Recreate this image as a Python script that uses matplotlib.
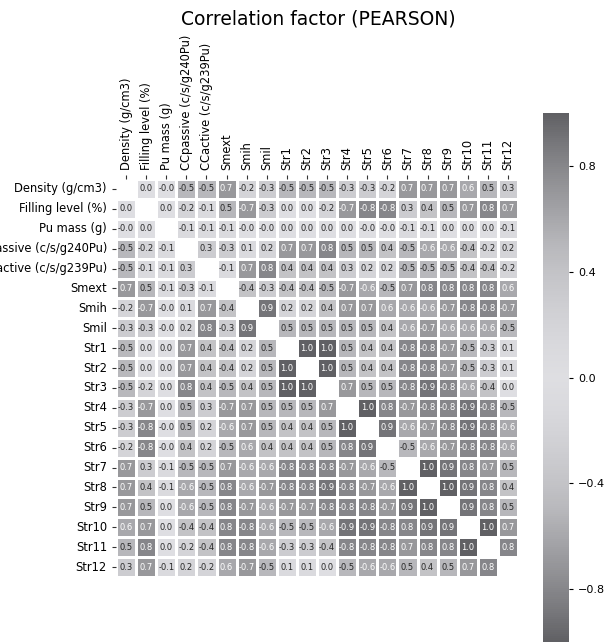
import numpy as np
import pandas as pd
import seaborn as sns
import matplotlib.pyplot as plt
from matplotlib.colors import LinearSegmentedColormap

# nomes das variaveis
labels = ['Density (g/cm3)', 'Filling level (%)', 'Pu mass (g)',
          'CCpassive (c/s/g240Pu)', 'CCactive (c/s/g239Pu)',
          'Smext', 'Smih', 'Smil',
          'Str1', 'Str2', 'Str3', 'Str4', 'Str5', 'Str6',
          'Str7', 'Str8', 'Str9', 'Str10', 'Str11', 'Str12']

# linhas da matriz de correlacao (diagonal = 1, fica mascarada)
r_density  = [1.0, 0.0, -0.0, -0.5, -0.5, 0.7, -0.2, -0.3, -0.5, -0.5, -0.5, -0.3, -0.3, -0.2, 0.7, 0.7, 0.7, 0.6, 0.5, 0.3]
r_filling  = [0.0, 1.0, 0.0, -0.2, -0.1, 0.5, -0.7, -0.3, 0.0, 0.0, -0.2, -0.7, -0.8, -0.8, 0.3, 0.4, 0.5, 0.7, 0.8, 0.7]
r_pumass   = [-0.0, 0.0, 1.0, -0.1, -0.1, -0.1, -0.0, -0.0, 0.0, 0.0, 0.0, 0.0, -0.0, -0.0, -0.1, -0.1, 0.0, 0.0, 0.0, -0.1]
r_ccpass   = [-0.5, -0.2, -0.1, 1.0, 0.3, -0.3, 0.1, 0.2, 0.7, 0.7, 0.8, 0.5, 0.5, 0.4, -0.5, -0.6, -0.6, -0.4, -0.2, 0.2]
r_ccact    = [-0.5, -0.1, -0.1, 0.3, 1.0, -0.1, 0.7, 0.8, 0.4, 0.4, 0.4, 0.3, 0.2, 0.2, -0.5, -0.5, -0.5, -0.4, -0.4, -0.2]
r_smext    = [0.7, 0.5, -0.1, -0.3, -0.1, 1.0, -0.4, -0.3, -0.4, -0.4, -0.5, -0.7, -0.6, -0.5, 0.7, 0.8, 0.8, 0.8, 0.8, 0.6]
r_smih     = [-0.2, -0.7, -0.0, 0.1, 0.7, -0.4, 1.0, 0.9, 0.2, 0.2, 0.4, 0.7, 0.7, 0.6, -0.6, -0.6, -0.7, -0.8, -0.8, -0.7]
r_smil     = [-0.3, -0.3, -0.0, 0.2, 0.8, -0.3, 0.9, 1.0, 0.5, 0.5, 0.5, 0.5, 0.5, 0.4, -0.6, -0.7, -0.6, -0.6, -0.6, -0.5]
r_str1     = [-0.5, 0.0, 0.0, 0.7, 0.4, -0.4, 0.2, 0.5, 1.0, 1.0, 1.0, 0.5, 0.4, 0.4, -0.8, -0.8, -0.7, -0.5, -0.3, 0.1]
r_str2     = [-0.5, 0.0, 0.0, 0.7, 0.4, -0.4, 0.2, 0.5, 1.0, 1.0, 1.0, 0.5, 0.4, 0.4, -0.8, -0.8, -0.7, -0.5, -0.3, 0.1]
r_str3     = [-0.5, -0.2, 0.0, 0.8, 0.4, -0.5, 0.4, 0.5, 1.0, 1.0, 1.0, 0.7, 0.5, 0.5, -0.8, -0.9, -0.8, -0.6, -0.4, 0.0]
r_str4     = [-0.3, -0.7, 0.0, 0.5, 0.3, -0.7, 0.7, 0.5, 0.5, 0.5, 0.7, 1.0, 1.0, 0.8, -0.7, -0.8, -0.8, -0.9, -0.8, -0.5]
r_str5     = [-0.3, -0.8, -0.0, 0.5, 0.2, -0.6, 0.7, 0.5, 0.4, 0.4, 0.5, 1.0, 1.0, 0.9, -0.6, -0.7, -0.8, -0.9, -0.8, -0.6]
r_str6     = [-0.2, -0.8, -0.0, 0.4, 0.2, -0.5, 0.6, 0.4, 0.4, 0.4, 0.5, 0.8, 0.9, 1.0, -0.5, -0.6, -0.7, -0.8, -0.8, -0.6]
r_str7     = [0.7, 0.3, -0.1, -0.5, -0.5, 0.7, -0.6, -0.6, -0.8, -0.8, -0.8, -0.7, -0.6, -0.5, 1.0, 1.0, 0.9, 0.8, 0.7, 0.5]
r_str8     = [0.7, 0.4, -0.1, -0.6, -0.5, 0.8, -0.6, -0.7, -0.8, -0.8, -0.9, -0.8, -0.7, -0.6, 1.0, 1.0, 1.0, 0.9, 0.8, 0.4]
r_str9     = [0.7, 0.5, 0.0, -0.6, -0.5, 0.8, -0.7, -0.6, -0.7, -0.7, -0.8, -0.8, -0.8, -0.7, 0.9, 1.0, 1.0, 0.9, 0.8, 0.5]
r_str10    = [0.6, 0.7, 0.0, -0.4, -0.4, 0.8, -0.8, -0.6, -0.5, -0.5, -0.6, -0.9, -0.9, -0.8, 0.8, 0.9, 0.9, 1.0, 1.0, 0.7]
r_str11    = [0.5, 0.8, 0.0, -0.2, -0.4, 0.8, -0.8, -0.6, -0.3, -0.3, -0.4, -0.8, -0.8, -0.8, 0.7, 0.8, 0.8, 1.0, 1.0, 0.8]
r_str12    = [0.3, 0.7, -0.1, 0.2, -0.2, 0.6, -0.7, -0.5, 0.1, 0.1, 0.0, -0.5, -0.6, -0.6, 0.5, 0.4, 0.5, 0.7, 0.8, 1.0]

linhas = [r_density, r_filling, r_pumass, r_ccpass, r_ccact, r_smext, r_smih, r_smil,
          r_str1, r_str2, r_str3, r_str4, r_str5, r_str6, r_str7, r_str8, r_str9,
          r_str10, r_str11, r_str12]
corr = pd.DataFrame(linhas, index=labels, columns=labels)
mask = np.eye(len(labels), dtype=bool)

# mapa de cor cinza divergente (escuro nas pontas, claro no centro)
# nivel de cinza para |r| = 0.0, 0.1, ..., 1.0
niveis = [222, 218, 212, 204, 195, 184, 168, 152, 135, 117, 96]
nos = []
for k in range(10, -1, -1):
    g = niveis[k] / 255
    nos.append(((1 - k / 10) / 2, (g, g, min(g + 0.015, 1))))
for k in range(1, 11):
    g = niveis[k] / 255
    nos.append(((1 + k / 10) / 2, (g, g, min(g + 0.015, 1))))
cmap = LinearSegmentedColormap.from_list('cinza', nos)

W, H = 613, 642
fig = plt.figure(figsize=(W / 100, H / 100), dpi=100)
ax = fig.add_axes([116 / W, 1 - 577 / H, 402 / W, 398 / H])
cax = fig.add_axes([543 / W, 0.0, 26 / W, 1 - 113 / H])

sns.heatmap(corr, mask=mask, annot=True, fmt='.1f', cmap=cmap, vmin=-1, vmax=1,
            linewidths=1, linecolor='white', annot_kws={'size': 6},
            ax=ax, cbar_ax=cax)

ax.xaxis.tick_top()
ax.set_xticklabels(labels, rotation=90, fontsize=8.3)
ax.set_yticklabels(labels, rotation=0, fontsize=8.3)
ax.tick_params(length=3, color='#333333')

cax.set_yticks([-0.8, -0.4, 0.0, 0.4, 0.8])
cax.tick_params(labelsize=8, length=3)
for s in cax.spines.values():
    s.set_visible(False)

fig.suptitle('Correlation factor (PEARSON)', fontsize=13.5, x=0.52, y=0.985)

fig.savefig('out.png', dpi=100)
